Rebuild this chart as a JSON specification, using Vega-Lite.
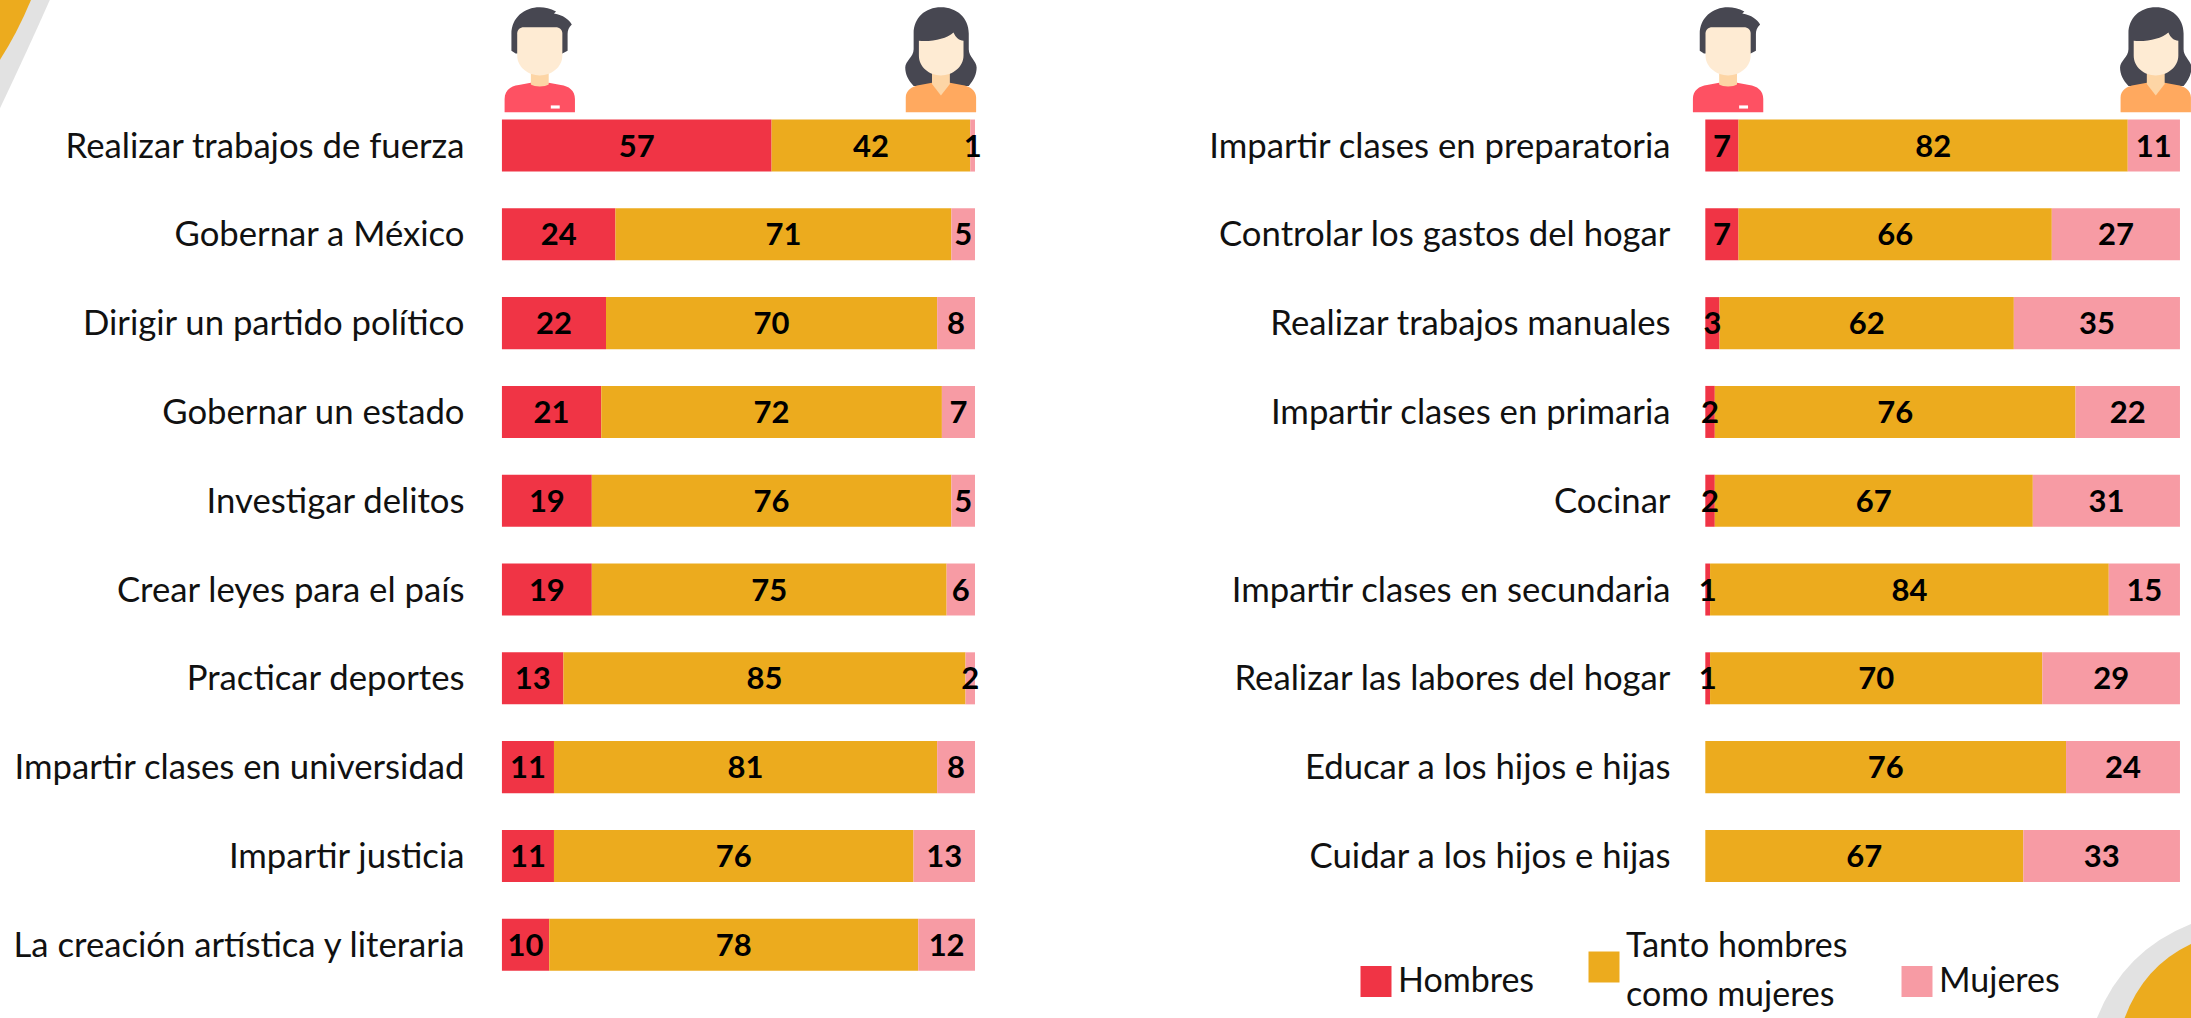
{
"$schema":"https://vega.github.io/schema/vega-lite/v6.json",
"padding":0,
"autosize":{"type":"pad"},
"background":"white",
"config":{"view":{"stroke":null},"font":"Lato"},
"spacing":8,
"datasets":{
"izq":[
{"fila":"Realizar trabajos de fuerza","categoria":"Hombres","valor":57},{"fila":"Realizar trabajos de fuerza","categoria":"Tanto hombres como mujeres","valor":42},{"fila":"Realizar trabajos de fuerza","categoria":"Mujeres","valor":1},
{"fila":"Gobernar a México","categoria":"Hombres","valor":24},{"fila":"Gobernar a México","categoria":"Tanto hombres como mujeres","valor":71},{"fila":"Gobernar a México","categoria":"Mujeres","valor":5},
{"fila":"Dirigir un partido político","categoria":"Hombres","valor":22},{"fila":"Dirigir un partido político","categoria":"Tanto hombres como mujeres","valor":70},{"fila":"Dirigir un partido político","categoria":"Mujeres","valor":8},
{"fila":"Gobernar un estado","categoria":"Hombres","valor":21},{"fila":"Gobernar un estado","categoria":"Tanto hombres como mujeres","valor":72},{"fila":"Gobernar un estado","categoria":"Mujeres","valor":7},
{"fila":"Investigar delitos","categoria":"Hombres","valor":19},{"fila":"Investigar delitos","categoria":"Tanto hombres como mujeres","valor":76},{"fila":"Investigar delitos","categoria":"Mujeres","valor":5},
{"fila":"Crear leyes para el país","categoria":"Hombres","valor":19},{"fila":"Crear leyes para el país","categoria":"Tanto hombres como mujeres","valor":75},{"fila":"Crear leyes para el país","categoria":"Mujeres","valor":6},
{"fila":"Practicar deportes","categoria":"Hombres","valor":13},{"fila":"Practicar deportes","categoria":"Tanto hombres como mujeres","valor":85},{"fila":"Practicar deportes","categoria":"Mujeres","valor":2},
{"fila":"Impartir clases en universidad","categoria":"Hombres","valor":11},{"fila":"Impartir clases en universidad","categoria":"Tanto hombres como mujeres","valor":81},{"fila":"Impartir clases en universidad","categoria":"Mujeres","valor":8},
{"fila":"Impartir justicia","categoria":"Hombres","valor":11},{"fila":"Impartir justicia","categoria":"Tanto hombres como mujeres","valor":76},{"fila":"Impartir justicia","categoria":"Mujeres","valor":13},
{"fila":"La creación artística y literaria","categoria":"Hombres","valor":10},{"fila":"La creación artística y literaria","categoria":"Tanto hombres como mujeres","valor":78},{"fila":"La creación artística y literaria","categoria":"Mujeres","valor":12}
],
"der":[
{"fila":"Impartir clases en preparatoria","categoria":"Hombres","valor":7},{"fila":"Impartir clases en preparatoria","categoria":"Tanto hombres como mujeres","valor":82},{"fila":"Impartir clases en preparatoria","categoria":"Mujeres","valor":11},
{"fila":"Controlar los gastos del hogar","categoria":"Hombres","valor":7},{"fila":"Controlar los gastos del hogar","categoria":"Tanto hombres como mujeres","valor":66},{"fila":"Controlar los gastos del hogar","categoria":"Mujeres","valor":27},
{"fila":"Realizar trabajos manuales","categoria":"Hombres","valor":3},{"fila":"Realizar trabajos manuales","categoria":"Tanto hombres como mujeres","valor":62},{"fila":"Realizar trabajos manuales","categoria":"Mujeres","valor":35},
{"fila":"Impartir clases en primaria","categoria":"Hombres","valor":2},{"fila":"Impartir clases en primaria","categoria":"Tanto hombres como mujeres","valor":76},{"fila":"Impartir clases en primaria","categoria":"Mujeres","valor":22},
{"fila":"Cocinar","categoria":"Hombres","valor":2},{"fila":"Cocinar","categoria":"Tanto hombres como mujeres","valor":67},{"fila":"Cocinar","categoria":"Mujeres","valor":31},
{"fila":"Impartir clases en secundaria","categoria":"Hombres","valor":1},{"fila":"Impartir clases en secundaria","categoria":"Tanto hombres como mujeres","valor":84},{"fila":"Impartir clases en secundaria","categoria":"Mujeres","valor":15},
{"fila":"Realizar las labores del hogar","categoria":"Hombres","valor":1},{"fila":"Realizar las labores del hogar","categoria":"Tanto hombres como mujeres","valor":70},{"fila":"Realizar las labores del hogar","categoria":"Mujeres","valor":29},
{"fila":"Educar a los hijos e hijas","categoria":"Tanto hombres como mujeres","valor":76},{"fila":"Educar a los hijos e hijas","categoria":"Mujeres","valor":24},
{"fila":"Cuidar a los hijos e hijas","categoria":"Tanto hombres como mujeres","valor":67},{"fila":"Cuidar a los hijos e hijas","categoria":"Mujeres","valor":33}
],
"iconosIzq":[
{"fila":" ","x":8,"parte":"h_pelo"},{"fila":" ","x":8,"parte":"h_camisa"},{"fila":" ","x":8,"parte":"h_cuello"},{"fila":" ","x":8,"parte":"h_cara"},{"fila":" ","x":8,"parte":"h_placa"},
{"fila":" ","x":92.8,"parte":"m_pelo"},{"fila":" ","x":92.8,"parte":"m_camisa"},{"fila":" ","x":92.8,"parte":"m_cuello"},{"fila":" ","x":92.8,"parte":"m_cara"}
],
"iconosDer":[
{"fila":" ","x":4.8,"parte":"h_pelo"},{"fila":" ","x":4.8,"parte":"h_camisa"},{"fila":" ","x":4.8,"parte":"h_cuello"},{"fila":" ","x":4.8,"parte":"h_cara"},{"fila":" ","x":4.8,"parte":"h_placa"},
{"fila":" ","x":94.9,"parte":"m_pelo"},{"fila":" ","x":94.9,"parte":"m_camisa"},{"fila":" ","x":94.9,"parte":"m_cuello"},{"fila":" ","x":94.9,"parte":"m_cara"}
]
},
"hconcat":[
{
"width":975,"height":1018,
"encoding":{
"x":{"type":"quantitative","scale":{"domain":[-106.1,100],"nice":false,"zero":false},"axis":null},
"y":{"field":"fila","type":"nominal","title":null,
"scale":{"domain":[" ","Realizar trabajos de fuerza","Gobernar a México","Dirigir un partido político","Gobernar un estado","Investigar delitos","Crear leyes para el país","Practicar deportes","Impartir clases en universidad","Impartir justicia","La creación artística y literaria"],"paddingInner":0.414,"paddingOuter":0.439,"align":0.394},
"axis":{"domain":false,"ticks":false,"labelPadding":-464,"labelOffset":2,"labelFont":"Lato","labelFontSize":34.7,"labelColor":"#111111","labelLimit":0}}},
"layer":[
{"data":{"values":[{"fila":" ","x":-106.1}]},"mark":{"type":"point","filled":true,"clip":true,"strokeWidth":0,"opacity":1,"size":160000,"fill":"#E2E2E2","shape":"M-.2 -.4 L.3 -.4 Q.17 -.1 -.02 .3 L-.2 .3 Z"},"encoding":{"x":{"field":"x","type":"quantitative","scale":{"domain":[-106.1,100],"nice":false,"zero":false},"axis":null}}},
{"data":{"values":[{"fila":" ","x":-106.1}]},"mark":{"type":"point","filled":true,"clip":true,"strokeWidth":0,"opacity":1,"size":160000,"fill":"#ECAB1E","shape":"M-.2 -.4 L.2 -.4 Q.11 -.15 -.01 .03 L-.2 .03 Z"},"encoding":{"x":{"field":"x","type":"quantitative","scale":{"domain":[-106.1,100],"nice":false,"zero":false},"axis":null}}},
{"data":{"name":"izq"},"transform":[{"calculate":"indexof(['Hombres','Tanto hombres como mujeres','Mujeres'],datum.categoria)","as":"orden"}],
"mark":{"type":"bar"},
"encoding":{"x":{"field":"valor","type":"quantitative","stack":"zero","scale":{"domain":[-106.1,100],"nice":false,"zero":false},"axis":null},
"color":{"field":"categoria","type":"nominal","scale":{"domain":["Hombres","Tanto hombres como mujeres","Mujeres"],"range":["#F03445","#ECAB1E","#F79BA4"]},
"legend":{"title":null,"orient":"none","legendX":1359,"legendY":950,"columns":3,"direction":"horizontal","gridAlign":"each","columnPadding":52,"symbolType":"square","symbolSize":961,"symbolStrokeWidth":0,"labelFont":"Lato","labelFontSize":34,"labelColor":"#111111","labelOffset":5,"labelLimit":0,"labelExpr":"datum.label=='Tanto hombres como mujeres'?['Tanto hombres','como mujeres']:datum.label","encoding":{"labels":{"lineHeight":{"value":49},"dy":{"condition":{"test":"datum.value=='Tanto hombres como mujeres'","value":-20},"value":0}}}}},
"order":{"field":"orden","type":"quantitative"}}},
{"data":{"name":"izq"},"transform":[{"calculate":"indexof(['Hombres','Tanto hombres como mujeres','Mujeres'],datum.categoria)","as":"orden"}],
"mark":{"type":"text","font":"Lato","fontWeight":"bold","fontSize":31,"color":"#000000","dy":2},
"encoding":{"x":{"field":"valor","type":"quantitative","stack":"zero","bandPosition":0.5,"scale":{"domain":[-106.1,100],"nice":false,"zero":false},"axis":null},"detail":{"field":"categoria","type":"nominal"},"order":{"field":"orden","type":"quantitative"},"text":{"field":"valor","type":"quantitative"}}},
{"data":{"name":"iconosIzq"},"mark":{"type":"point","filled":true,"strokeWidth":0,"opacity":1,"size":11025,"yOffset":3},
"encoding":{"x":{"field":"x","type":"quantitative","scale":{"domain":[-106.1,100],"nice":false,"zero":false},"axis":null},
"shape":{"field":"parte","type":"nominal","legend":null,"scale":{"domain":["h_pelo","h_camisa","h_cuello","h_cara","h_placa","m_pelo","m_camisa","m_cuello","m_cara"],"range":[
"M-.54 -.17 V-.49 C-.54 -.8 -.3 -1 0 -1 C.1 -1 .2 -.98 .31 -.92 L.27 -.88 C.45 -.85 .55 -.77 .61 -.67 C.55 -.62 .53 -.55 .53 -.49 V-.17 L.43 -.12 L-.46 -.12 Z",
"M-.67 1 V.75 C-.67 .58 -.55 .5 -.4 .48 L-.17 .44 C-.1 .52 .1 .52 .17 .44 L.4 .48 C.55 .5 .67 .58 .67 .75 V1 Z",
"M-.17 .2 H.17 V.47 C.1 .52 -.1 .52 -.17 .47 Z",
"M-.3 -.62 H.3 C.38 -.62 .43 -.57 .43 -.5 V-.08 C.43 .14 .22 .3 0 .3 C-.22 .3 -.43 .14 -.43 -.08 V-.5 C-.43 -.57 -.38 -.62 -.3 -.62 Z",
"M.21 .87 H.38 V.93 H.21 Z",
"M-.52 .5 C-.62 .4 -.68 .28 -.68 .15 C-.68 .02 -.52 -.05 -.52 -.2 V-.5 C-.52 -.8 -.3 -1 0 -1 C.3 -1 .53 -.8 .53 -.5 V-.2 C.53 -.05 .68 .02 .68 .15 C.68 .28 .62 .4 .53 .5 Z",
"M-.67 1 V.72 C-.67 .58 -.55 .5 -.4 .48 L-.17 .44 H.17 L.4 .48 C.55 .5 .67 .58 .67 .72 V1 Z",
"M-.17 .2 H.17 V.46 L0 .68 L-.17 .46 Z",
"M-.42 -.36 C-.15 -.34 .1 -.4 .24 -.52 C.28 -.42 .35 -.37 .43 -.36 V-.08 C.43 .14 .22 .3 0 .3 C-.22 .3 -.42 .14 -.42 -.08 Z"
]}},
"fill":{"field":"parte","type":"nominal","legend":null,"scale":{"domain":["h_pelo","h_camisa","h_cuello","h_cara","h_placa","m_pelo","m_camisa","m_cuello","m_cara"],"range":["#474751","#FE5163","#FDD5A5","#FEEBD3","#FFFFFF","#474751","#FFA95F","#FDD5A5","#FEEBD3"]}}}}
]
},
{
"width":1208,"height":1018,
"encoding":{
"y":{"field":"fila","type":"nominal","title":null,
"scale":{"domain":[" ","Impartir clases en preparatoria","Controlar los gastos del hogar","Realizar trabajos manuales","Impartir clases en primaria","Cocinar","Impartir clases en secundaria","Realizar las labores del hogar","Educar a los hijos e hijas","Cuidar a los hijos e hijas","  "],"paddingInner":0.414,"paddingOuter":0.439,"align":0.394},
"axis":{"domain":false,"ticks":false,"labelPadding":-680,"labelOffset":2,"labelFont":"Lato","labelFontSize":34.7,"labelColor":"#111111","labelLimit":0}}},
"layer":[
{"data":{"values":[{"fila":"Cuidar a los hijos e hijas","x":100}]},"mark":{"type":"point","filled":true,"clip":true,"strokeWidth":0,"opacity":1,"size":160000,"fill":"#E2E2E2","shape":"M.055 .34 Q-.3 .48 -.43 .85 L.2 .9 L.2 .34 Z"},"encoding":{"x":{"field":"x","type":"quantitative","scale":{"domain":[-150.7,103.8],"nice":false,"zero":false},"axis":null}}},
{"data":{"values":[{"fila":"Cuidar a los hijos e hijas","x":100}]},"mark":{"type":"point","filled":true,"clip":true,"strokeWidth":0,"opacity":1,"size":160000,"fill":"#ECAB1E","shape":"M.055 .44 Q-.2 .56 -.29 .85 L.2 .9 L.2 .44 Z"},"encoding":{"x":{"field":"x","type":"quantitative","scale":{"domain":[-150.7,103.8],"nice":false,"zero":false},"axis":null}}},
{"data":{"name":"der"},"transform":[{"calculate":"indexof(['Hombres','Tanto hombres como mujeres','Mujeres'],datum.categoria)","as":"orden"}],
"mark":{"type":"bar"},
"encoding":{"x":{"field":"valor","type":"quantitative","stack":"zero","scale":{"domain":[-150.7,103.8],"nice":false,"zero":false},"axis":null},
"color":{"field":"categoria","type":"nominal"},
"order":{"field":"orden","type":"quantitative"}}},
{"data":{"name":"der"},"transform":[{"calculate":"indexof(['Hombres','Tanto hombres como mujeres','Mujeres'],datum.categoria)","as":"orden"}],
"mark":{"type":"text","font":"Lato","fontWeight":"bold","fontSize":31,"color":"#000000","dy":2},
"encoding":{"x":{"field":"valor","type":"quantitative","stack":"zero","bandPosition":0.5,"scale":{"domain":[-150.7,103.8],"nice":false,"zero":false},"axis":null},"detail":{"field":"categoria","type":"nominal"},"order":{"field":"orden","type":"quantitative"},"text":{"field":"valor","type":"quantitative"}}},
{"data":{"name":"iconosDer"},"mark":{"type":"point","filled":true,"strokeWidth":0,"opacity":1,"size":11025,"yOffset":3},
"encoding":{"x":{"field":"x","type":"quantitative","scale":{"domain":[-150.7,103.8],"nice":false,"zero":false},"axis":null},
"shape":{"field":"parte","type":"nominal","legend":null},
"fill":{"field":"parte","type":"nominal","legend":null}}}
]
}
]
}
